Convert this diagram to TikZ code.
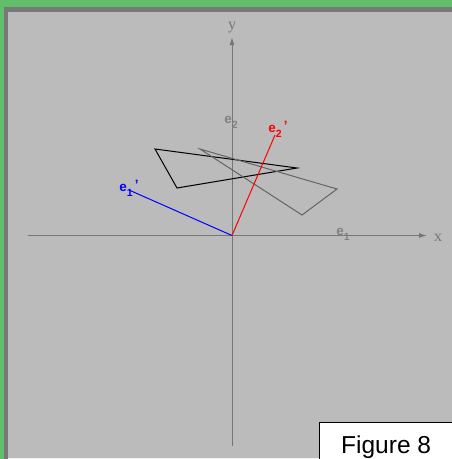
\documentclass[tikz,border=0pt]{standalone}
\usepackage{fontspec}
\setmainfont{Liberation Sans}
\newfontfamily\serifx{Liberation Serif}
\usetikzlibrary{arrows.meta}
\definecolor{frameg}{RGB}{98,190,106}
\definecolor{framed}{RGB}{120,120,120}
\definecolor{bgg}{RGB}{187,187,187}
\definecolor{axisg}{RGB}{118,118,118}
\definecolor{triag}{RGB}{100,100,100}
\definecolor{lblg}{RGB}{130,130,130}
\tikzset{
  axisline/.style={draw=axisg, line width=1pt},
  axisarrow/.style={axisline, -{Latex[length=8pt,width=5pt]}},
  axislabel/.style={text=axisg, font=\serifx\fontsize{16}{16}\selectfont, inner sep=0pt},
  veclabel/.style={font=\bfseries\fontsize{13.5}{13.5}\selectfont, inner sep=0pt},
  basislabel/.style={text=lblg, font=\bfseries\fontsize{13.5}{13.5}\selectfont, inner sep=0pt},
  figbox/.style={draw=black, fill=white, line width=1pt, inner sep=0pt, anchor=north west,
    minimum width=150pt, minimum height=42pt},
  figtext/.style={font=\fontsize{24.5}{24.5}\selectfont, text=black, inner sep=0pt, anchor=base west},
}
\newcommand{\subone}[1]{\raisebox{-5pt}{\fontsize{10.5}{10.5}\selectfont #1}}
\newcommand{\primemark}{\raisebox{2pt}{\,'}}
\begin{document}
\begin{tikzpicture}[x=1pt,y=-1pt]
\useasboundingbox (0,0) rectangle (452,459);
% frame
\fill[frameg] (0,0) rectangle (452,459);
\fill[framed] (3.7,7) rectangle (452,459);
\fill[bgg] (8,12) rectangle (452,459);
\fill[white!82!bgg] (8,457.5) rectangle (452,459);
% axes
\coordinate (O) at (232,235.5);
\coordinate (xl) at (28,235.5);
\coordinate (xr) at (427,235.5);
\coordinate (yb) at (232,446);
\coordinate (yt) at (232,37);
\draw[axisline] (xl) -- (O);
\draw[axisarrow] (O) -- (xr);
\draw[axisline] (yb) -- (O);
\draw[axisarrow] (O) -- (yt);
\node[axislabel] (xlab) at (438,238) {x};
\node[axislabel] (ylab) at (232,28) {y};
% basis labels
\node[basislabel] (e1) at (343,234) {e\subone{1}};
\node[basislabel] (e2) at (231,122) {e\subone{2}};
% triangles
\coordinate (ta) at (155,149);
\coordinate (tb) at (297,168);
\coordinate (tc) at (177,188);
\draw[black, line width=1pt, line join=miter] (ta) -- (tb) -- (tc) -- cycle;
\coordinate (ga) at (200,149);
\coordinate (gb) at (337,189);
\coordinate (gc) at (302,215);
\draw[triag, line width=1pt] (ga) -- (gb) -- (gc) -- cycle;
% transformed basis
\coordinate (b1) at (129,190);
\coordinate (b2) at (275,135);
\draw[blue, line width=1pt] (O) -- (b1);
\draw[red, line width=1pt] (O) -- (b2);
\node[veclabel, text=blue] (e1p) at (129,188) {e\subone{1}\primemark};
\node[veclabel, text=red] (e2p) at (278,129) {e\subone{2}\primemark};
% figure label
\node[figbox] (fig) at (319,421.5) {};
\node[figtext] (figlab) at (341,453.5) {Figure 8};
\end{tikzpicture}
\end{document}
